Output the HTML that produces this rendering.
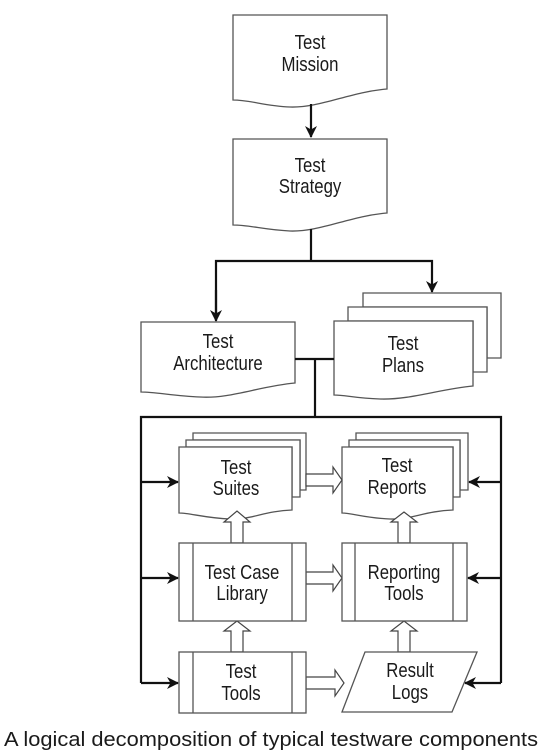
<!DOCTYPE html>
<html><head><meta charset="utf-8"><style>
body{margin:0;background:#fff;}
svg{display:block;}
text{font-family:"Liberation Sans Narrow","Liberation Sans",sans-serif;font-size:20px;fill:#1a1a1a;text-anchor:middle;transform-box:fill-box;transform-origin:center;transform:scaleX(0.84);}
text.c{transform:none;text-anchor:start;font-size:20px;}
.s{fill:#fff;stroke:#555;stroke-width:1.3;}
.l{fill:none;stroke:#111;stroke-width:2.2;}
.h{fill:#fff;stroke:#444;stroke-width:1.2;}
</style></head><body>
<svg width="544" height="753" viewBox="0 0 544 753">
<defs><marker id="a" markerWidth="12" markerHeight="12" refX="11" refY="6" orient="auto" markerUnits="userSpaceOnUse"><path d="M0,0 L12,6 L0,12 L3.5,6Z" fill="#111"/></marker></defs>
<!-- Mission -->
<path class="s" d="M233,15 H387 V89 C350,92 320,108 290,107 C265,106 250,100 233,100 Z"/>
<text x="310" y="49">Test</text><text x="310" y="71">Mission</text>
<line class="l" x1="311" y1="104" x2="311" y2="137" marker-end="url(#a)"/>
<!-- Strategy -->
<path class="s" d="M233,139 H387 V213 C350,216 320,232 290,231 C265,230 250,225 233,225 Z"/>
<text x="310" y="172">Test</text><text x="310" y="193">Strategy</text>
<polyline class="l" points="311,229 311,261"/>
<polyline class="l" points="216,320 216,261 432,261 432,292" marker-end="url(#a)"/>
<line class="l" x1="216" y1="290" x2="216" y2="321" marker-end="url(#a)"/>
<!-- Architecture -->
<path class="s" d="M141,322 H295 V383 C260,386 230,399 200,397 C175,396 155,392 141,392 Z"/>
<text x="218" y="348">Test</text><text x="218" y="370">Architecture</text>
<!-- Plans -->
<path class="s" d="M363,293 H501 V358 H487 V307 H363Z"/>
<path class="s" d="M348,307 H487 V372 H473 V321 H348Z"/>
<path class="s" d="M334,321 H473 V386 C440,389 410,400 380,399 C355,398 345,395 334,395 Z"/>
<text x="403" y="350">Test</text><text x="403" y="372">Plans</text>
<polyline class="l" points="295,359 334,359"/>
<polyline class="l" points="315,359 315,417"/>
<!-- big box lines -->
<polyline class="l" points="141,683 141,417 501,417 501,683"/>
<line class="l" x1="141" y1="482" x2="178" y2="482" marker-end="url(#a)"/>
<line class="l" x1="141" y1="578" x2="178" y2="578" marker-end="url(#a)"/>
<line class="l" x1="141" y1="683" x2="178" y2="683" marker-end="url(#a)"/>
<line class="l" x1="501" y1="482" x2="469" y2="482" marker-end="url(#a)"/>
<line class="l" x1="501" y1="578" x2="468" y2="578" marker-end="url(#a)"/>
<line class="l" x1="501" y1="683" x2="465" y2="683" marker-end="url(#a)"/>
<!-- Suites -->
<path class="s" d="M193,433 H306 V490 H300 V440 H193Z"/>
<path class="s" d="M186,440 H300 V497 H292 V447 H186Z"/>
<path class="s" d="M179,447 H292 V510 C265,511 250,520 230,519 C205,518 190,513 179,513 Z"/>
<text x="236" y="474">Test</text><text x="236" y="495">Suites</text>
<!-- Reports -->
<path class="s" d="M356,433 H468 V490 H460 V440 H356Z"/>
<path class="s" d="M349,440 H460 V497 H453 V447 H349Z"/>
<path class="s" d="M342,447 H453 V510 C425,511 410,520 390,519 C365,518 352,513 342,513 Z"/>
<text x="397" y="472">Test</text><text x="397" y="494">Reports</text>
<!-- hollow arrows -->
<path class="h" d="M306,474 H333 V467 L342,480 L333,493 V486 H306Z"/>
<path class="h" d="M306,572 H333 V565 L342,578 L333,591 V584 H306Z"/>
<path class="h" d="M306,677 H335 V670 L344,683 L335,696 V689 H306Z"/>
<path class="h" d="M231,543 V522 H224 L237,511 L250,522 H243 V543Z"/>
<path class="h" d="M231,652 V631 H224 L237,621 L250,631 H243 V652Z"/>
<path class="h" d="M398,543 V522 H391 L404,512 L417,522 H410 V543Z"/>
<path class="h" d="M398,652 V631 H391 L404,621 L417,631 H410 V652Z"/>
<!-- Test Case Library -->
<rect class="s" x="179" y="543" width="127" height="78"/>
<line class="s" x1="193" y1="543" x2="193" y2="621"/><line class="s" x1="292" y1="543" x2="292" y2="621"/>
<text x="242" y="579">Test Case</text><text x="242" y="600">Library</text>
<!-- Reporting Tools -->
<rect class="s" x="342" y="543" width="125" height="78"/>
<line class="s" x1="355" y1="543" x2="355" y2="621"/><line class="s" x1="453" y1="543" x2="453" y2="621"/>
<text x="404" y="579">Reporting</text><text x="404" y="600">Tools</text>
<!-- Test Tools -->
<rect class="s" x="179" y="652" width="127" height="61"/>
<line class="s" x1="193" y1="652" x2="193" y2="713"/><line class="s" x1="292" y1="652" x2="292" y2="713"/>
<text x="241" y="678">Test</text><text x="241" y="700">Tools</text>
<!-- Result Logs -->
<path class="s" d="M365,652 H477 L452,712 H342Z"/>
<text x="410" y="677">Result</text><text x="410" y="699">Logs</text>
<text class="c" x="4" y="746" textLength="534" lengthAdjust="spacingAndGlyphs">A logical decomposition of typical testware components</text>
</svg>
</body></html>
